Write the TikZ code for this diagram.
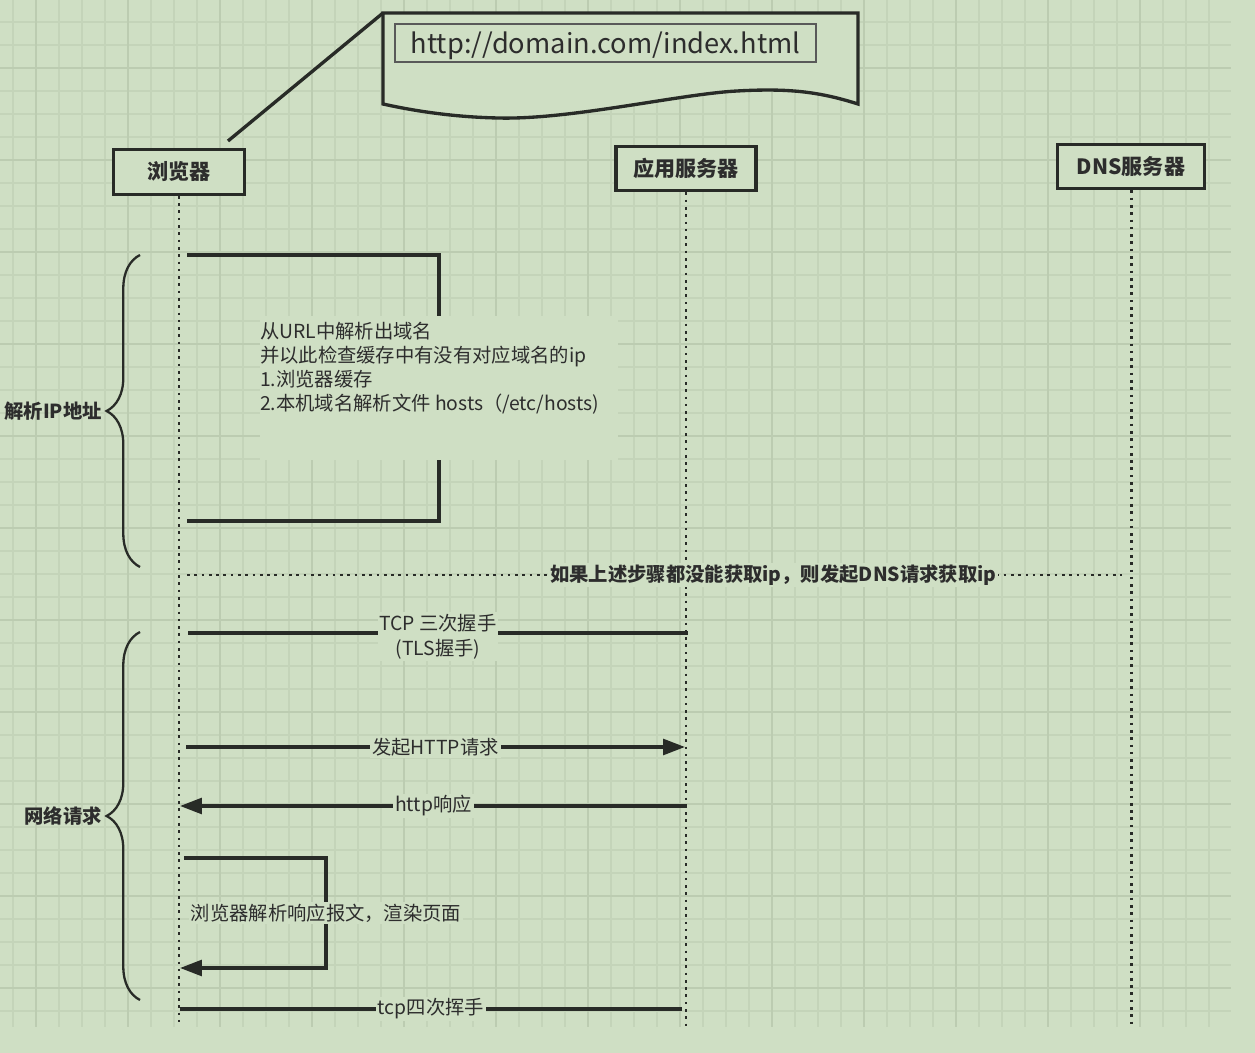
\documentclass[tikz,border=0pt]{standalone}
\usepackage{fontspec}
\setmainfont{Noto Sans CJK SC}
\usetikzlibrary{arrows.meta,decorations.pathreplacing}
\definecolor{bgcol}{RGB}{207,223,196}
\definecolor{gridminor}{RGB}{196,212,185}
\definecolor{gridmajor}{RGB}{188,204,177}
\definecolor{ink}{RGB}{40,43,39}
\definecolor{txt}{RGB}{45,45,45}

\begin{document}
\begin{tikzpicture}[x={(0.02cm,0)}, y={(0,-0.02cm)},
  every node/.style={text=txt, font=\fontsize{11}{13.7}\selectfont},
  actor/.style={draw=ink, line width=1.9pt, fill=bgcol, minimum height=0.89cm, inner sep=0pt, font=\fontsize{12}{14}\selectfont\bfseries},
  lifeline/.style={draw=ink, line width=1.7pt, dash pattern=on 1.5pt off 2.65pt},
  msg/.style={draw=ink, line width=1.9pt},
  reply/.style={msg, -{Triangle[length=12.5pt,width=9pt]}},
  lbl/.style={fill=bgcol, inner sep=1pt},
  bracelbl/.style={anchor=east, inner sep=1pt, font=\fontsize{11}{13}\selectfont\bfseries},
  curly/.style={draw=ink, line width=1.3pt, decorate, decoration={brace, amplitude=19pt}}
]
\useasboundingbox (0,0) rectangle (1255,1053);
\fill[bgcol] (0,0) rectangle (1255,1053);

% grid
\foreach \i in {0,...,52} \draw[gridminor, line width=0.9pt] ({13+23*\i},0) -- ({13+23*\i},1027);
\foreach \j in {0,...,43} \draw[gridminor, line width=0.9pt] (0,{22+23*\j}) -- (1231,{22+23*\j});
\foreach \i in {1,5,...,49} \draw[gridmajor, line width=1.3pt] ({13+23*\i},0) -- ({13+23*\i},1027);
\foreach \j in {2,6,...,42} \draw[gridmajor, line width=1.3pt] (0,{22+23*\j}) -- (1231,{22+23*\j});

% callout
\coordinate (calloutTip) at (228,141);
\coordinate (calloutCorner) at (383,13);
\draw[msg, fill=bgcol] (calloutCorner) -- (858,13) -- (858,104)
  .. controls (820,92) and (790,88) .. (737,91)
  .. controls (680,94) and (570,120) .. (498,118)
  .. controls (450,117) and (410,110) .. (383,104) -- cycle;
\draw[msg] (calloutTip) -- (calloutCorner);
\node[draw=gray!70!black, line width=0.9pt, minimum width=8.42cm, minimum height=0.76cm, inner sep=0pt, text height=12pt, text depth=0.2pt, font=\fontsize{15.5}{17}\selectfont] (url) at (605.5,43) {http://domain.com/index.html};

% participants
\node[actor, minimum width=2.62cm] (browser) at (179,172) {浏览器};
\node[actor, minimum width=2.8cm] (app) at (686,168.5) {应用服务器};
\node[actor, minimum width=2.94cm] (dns) at (1131,166.5) {DNS服务器};

\coordinate (browserEnd) at (179,1027);
\coordinate (appEnd) at (686,1027);
\coordinate (dnsEnd) at (1131,1027);
\draw[lifeline] (browser.south) -- (browserEnd);
\draw[lifeline] (app.south) -- (appEnd);
\draw[lifeline] (dns.south) -- (dnsEnd);

% resolve ip
\coordinate (p1) at (187,255);
\coordinate (p2) at (439,255);
\coordinate (p3) at (439,521);
\coordinate (p4) at (187,521);
\draw[msg] (p1) -- (p2) -- node[fill=bgcol, inner sep=0pt] (note) {\begin{minipage}[c][2.88cm][t]{7.16cm}\raggedright\vspace*{3.5pt}
从URL中解析出域名\\
并以此检查缓存中有没有对应域名的ip\\
1.浏览器缓存\\
2.本机域名解析文件 hosts（/etc/hosts)
\end{minipage}} (p3) -- (p4);

% dns query
\coordinate (d1) at (187,575);
\coordinate (d2) at (1122,575);
\draw[lifeline] (d1) -- node[lbl, pos=0.627, font=\fontsize{11}{13}\selectfont\bfseries] (dnsq) {如果上述步骤都没能获取ip，则发起DNS请求获取ip} (d2);

% tcp handshake
\coordinate (t1) at (188,633);
\coordinate (t2) at (688,633);
\draw[msg] (t1) -- node[lbl, align=center, yshift=-2pt, font=\fontsize{11}{14.2}\selectfont] (tcp) {TCP 三次握手\\(TLS握手)} (t2);

% http request
\coordinate (h1) at (186,747);
\coordinate (h2) at (685,747);
\draw[reply] (h1) -- node[lbl] (req) {发起HTTP请求} (h2);

% http response
\coordinate (r1) at (687,806);
\coordinate (r2) at (180,806);
\draw[reply] (r1) -- node[lbl] (resp) {http响应} (r2);

% render
\coordinate (s1) at (184,858);
\coordinate (s2) at (326,858);
\coordinate (s3) at (326,968);
\coordinate (s4) at (180,968);
\draw[reply] (s1) -- (s2) -- node[lbl] (render) {浏览器解析响应报文，渲染页面} (s3) -- (s4);

% tcp close
\coordinate (c1) at (180,1009);
\coordinate (c2) at (682,1009);
\draw[msg] (c1) -- node[lbl] (close) {tcp四次挥手} (c2);

% braces
\coordinate (b1) at (140,567);
\coordinate (b2) at (140,255);
\draw[curly] (b1) -- (b2);
\node[bracelbl] (parseLbl) at (104,411) {解析IP地址};
\coordinate (n1) at (140,1000);
\coordinate (n2) at (140,632);
\draw[curly] (n1) -- (n2);
\node[bracelbl] (netLbl) at (104,816) {网络请求};
\end{tikzpicture}
\end{document}
